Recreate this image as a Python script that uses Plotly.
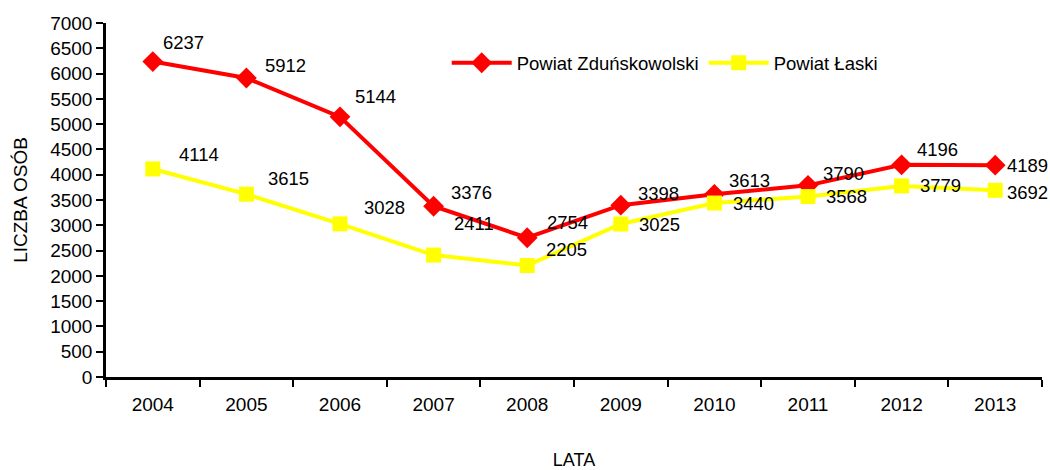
import plotly.graph_objects as go

years = ["2004", "2005", "2006", "2007", "2008", "2009", "2010", "2011", "2012", "2013"]
zdunskowolski = [6237, 5912, 5144, 3376, 2754, 3398, 3613, 3790, 4196, 4189]
laski = [4114, 3615, 3028, 2411, 2205, 3025, 3440, 3568, 3779, 3692]
y_ticks = list(range(0, 7001, 500))

# label offsets (pixels) for data labels
red_off = [(31, 19), (39, 13), (35, 20), (38, 14), (40, 15), (38, 12), (35, 14), (35, 12), (36, 15), (32, 0)]
yel_off = [(46, 14), (42, 16), (44, 16), (40, 32), (39, 16), (39, 0), (39, 0), (38, 0), (39, 0), (32, -2)]

FONT = "Liberation Sans"
fig = go.Figure()
fig.add_trace(go.Scatter(
    x=years, y=zdunskowolski, name="Powiat Zduńskowolski", mode="lines+markers",
    line=dict(color="#FF0000", width=4),
    marker=dict(symbol="diamond", size=16, color="#FF0000"),
))
fig.add_trace(go.Scatter(
    x=years, y=laski, name="Powiat Łaski", mode="lines+markers",
    line=dict(color="#FFFF00", width=4),
    marker=dict(symbol="square", size=15, color="#FFFF00"),
))

for ys, offs in [(zdunskowolski, red_off), (laski, yel_off)]:
    for i, (y, (dx, dy)) in enumerate(zip(ys, offs)):
        fig.add_annotation(x=i, y=y, xref="x", yref="y", text=str(y), showarrow=False,
                           xshift=dx, yshift=dy,
                           font=dict(family=FONT, size=18.5, color="black"))

fig.update_layout(
    width=1050, height=470,
    margin=dict(l=106, r=8, t=23, b=93, autoexpand=False),
    paper_bgcolor="white", plot_bgcolor="white",
    font=dict(family=FONT, size=19, color="black"),
    showlegend=True,
    legend=dict(orientation="h", x=0.364, y=0.94, xanchor="left", yanchor="top",
                font=dict(family=FONT, size=18.5), bgcolor="rgba(0,0,0,0)",
                itemwidth=60, tracegroupgap=0),
)
fig.update_xaxes(
    type="category", range=[-0.5, 9.5], automargin=False,
    showline=True, linecolor="black", linewidth=2.5,
    ticks="outside", ticklen=7, tickwidth=2, tickcolor="black",
    tickson="boundaries", showgrid=False, zeroline=False,
    ticklabelstandoff=8,
    title=dict(text="LATA", font=dict(family=FONT, size=18), standoff=42),
)
fig.update_yaxes(
    range=[0, 7000], tickvals=y_ticks, automargin=False,
    showline=True, linecolor="black", linewidth=2.5,
    ticks="outside", ticklen=7, tickwidth=2, tickcolor="black",
    showgrid=False, zeroline=False,
    title=dict(text="LICZBA OSÓB", font=dict(family=FONT, size=19), standoff=18),
)

fig.write_html("out.html",
               config={"displayModeBar": False},
               post_script="document.body.style.margin='0';document.body.style.overflow='hidden';")
